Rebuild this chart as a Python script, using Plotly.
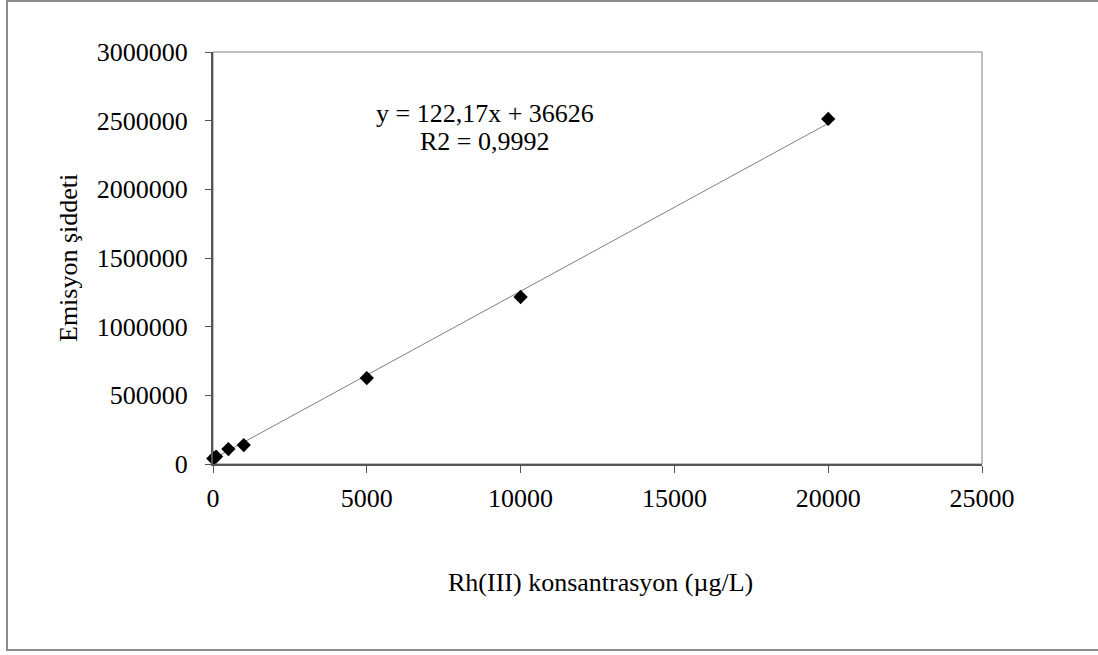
import plotly.graph_objects as go

# Data
concentration = [10, 100, 500, 1000, 5000, 10000, 20000]
intensity = [40000, 54000, 109000, 138000, 626000, 1216000, 2513000]
slope = 122.17
intercept = 36626
equation_text = "y = 122,17x + 36626"
r2_text = "R2 = 0,9992"
x_title = "Rh(III) konsantrasyon (µg/L)"
y_title = "Emisyon şiddeti"
x_ticks = [0, 5000, 10000, 15000, 20000, 25000]
y_ticks = [0, 500000, 1000000, 1500000, 2000000, 2500000, 3000000]

FONT = "Liberation Serif, Times New Roman, serif"
FS = 26
W, H = 1098, 655
L, R, T, B = 213, 982, 52, 464

trend_x = [min(concentration), max(concentration)]
trend_y = [slope * v + intercept for v in trend_x]

fig = go.Figure()
fig.add_trace(go.Scatter(x=trend_x, y=trend_y, mode="lines",
                         line=dict(color="#7f7f7f", width=1), showlegend=False,
                         hoverinfo="skip"))
fig.add_trace(go.Scatter(x=concentration, y=intensity, mode="markers",
                         marker=dict(symbol="diamond", size=11, color="black",
                                     line=dict(width=0)),
                         showlegend=False, cliponaxis=False))

def px_x(p):
    return (p - L) / (R - L)

def px_y(p):
    return (B - p) / (B - T)

shapes = [
    # outer chart border
    dict(type="rect", xref="paper", yref="paper",
         x0=px_x(7), x1=px_x(1102), y0=px_y(650), y1=px_y(1),
         line=dict(color="#8c8c8c", width=2), fillcolor="rgba(0,0,0,0)", layer="below"),
    # plot area border (top/right)
    dict(type="rect", xref="paper", yref="paper", x0=0, x1=1, y0=0, y1=1,
         line=dict(color="#808080", width=1), fillcolor="rgba(0,0,0,0)", layer="below"),
]

annotations = [
    dict(text=equation_text, xref="paper", yref="paper", x=px_x(485), y=px_y(113),
         xanchor="center", yanchor="middle", showarrow=False,
         font=dict(family=FONT, size=FS, color="black")),
    dict(text=r2_text, xref="paper", yref="paper", x=px_x(485), y=px_y(141),
         xanchor="center", yanchor="middle", showarrow=False,
         font=dict(family=FONT, size=FS, color="black")),
    dict(text=x_title, xref="paper", yref="paper", x=px_x(600), y=px_y(582),
         xanchor="center", yanchor="middle", showarrow=False,
         font=dict(family=FONT, size=FS, color="black")),
    dict(text=y_title, xref="paper", yref="paper", x=px_x(68), y=px_y(258),
         xanchor="center", yanchor="middle", showarrow=False, textangle=-90,
         font=dict(family=FONT, size=FS, color="black")),
]

fig.update_layout(
    width=W, height=H,
    margin=dict(l=L, r=W - R, t=T, b=H - B, pad=0),
    paper_bgcolor="white", plot_bgcolor="white",
    font=dict(family=FONT, size=FS, color="black"),
    shapes=shapes, annotations=annotations,
    xaxis=dict(range=[0, 25000], tickvals=x_ticks, ticktext=[str(v) for v in x_ticks],
               showgrid=False, zeroline=False, showline=True, linecolor="#555555",
               linewidth=2, ticks="outside", ticklen=7, tickcolor="#555555",
               tickwidth=1, ticklabelstandoff=3, fixedrange=True),
    yaxis=dict(range=[0, 3000000], tickvals=y_ticks, ticktext=[str(v) for v in y_ticks],
               showgrid=False, zeroline=False, showline=True, linecolor="#555555",
               linewidth=2, ticks="outside", ticklen=6, tickcolor="#555555",
               tickwidth=1, ticklabelstandoff=12, fixedrange=True),
)

fig.write_html("out.html", config={"displayModeBar": False},
               post_script="document.body.style.margin='0';document.body.style.overflow='hidden';")
